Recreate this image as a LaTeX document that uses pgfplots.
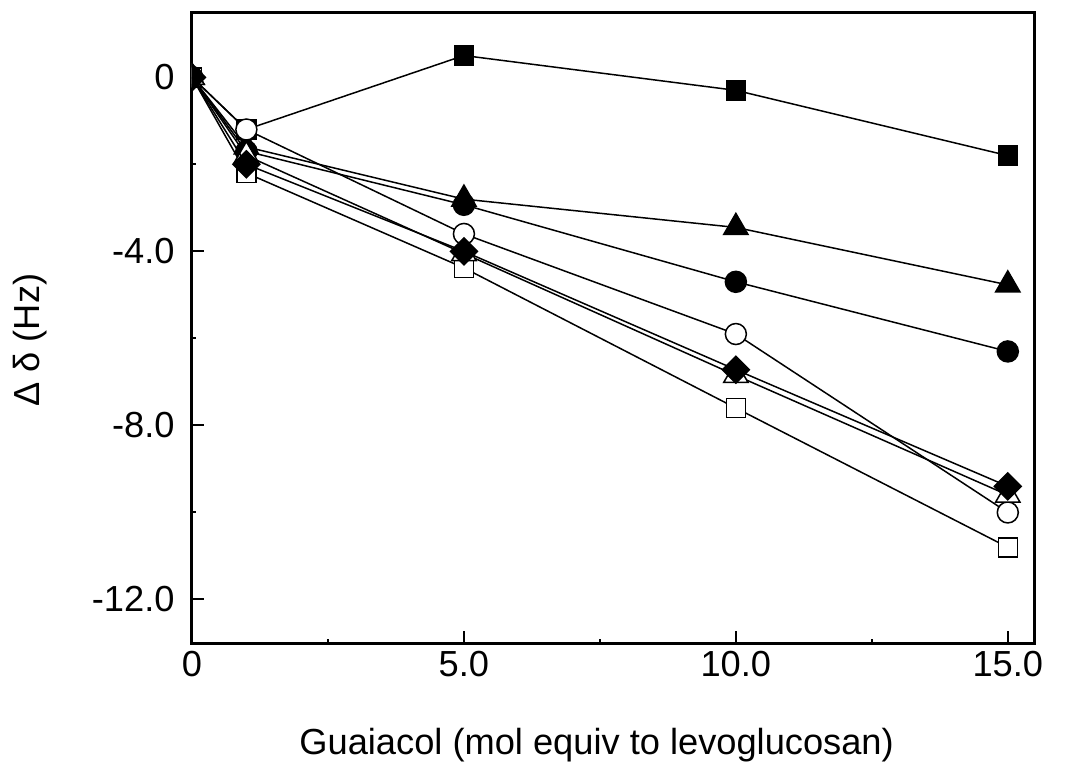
\documentclass[border=0pt]{standalone}
\usepackage{fontspec}
\setmainfont{Liberation Sans}
\usepackage{pgfplots}
\pgfplotsset{compat=1.18}

\begin{document}
\fontsize{14.5}{17}\selectfont
\begin{tikzpicture}
\useasboundingbox (-76.8pt,-54.4pt) rectangle (350pt,257.2pt);
\begin{axis}[
    at={(0,0)}, anchor=south west,
    scale only axis,
    width=337.2pt, height=252.4pt,
    xmin=0, xmax=15.5,
    ymin=-13, ymax=1.5,
    axis line style={line width=1.2pt},
    xtick={0,5,10,15},
    xticklabels={0,5.0,10.0,15.0},
    ytick={-12,-8,-4,0},
    yticklabels={-12.0,-8.0,-4.0,0},
    minor xtick={2.5,7.5,12.5},
    minor ytick={-10,-6,-2},
    tick align=inside,
    xtick pos=bottom, ytick pos=left,
    major tick length=4.8pt,
    minor tick length=1.5pt,
    tick style={line width=0.8pt, black},
    /pgf/number format/assume math mode=true,
    xticklabel style={anchor=north, inner sep=0pt, yshift=-3pt},
    yticklabel style={anchor=east, inner sep=0pt, xshift=-6.8pt},
    xlabel={Guaiacol (mol equiv to levoglucosan)},
    ylabel={Δ δ (Hz)},
    every axis x label/.style={at={(axis description cs:0.48,-0.162)}, anchor=center},
    every axis y label/.style={at={(axis description cs:-0.192,0.48)}, rotate=90, anchor=center},
    clip marker paths=true,
    every axis plot/.append style={black, line width=0.6pt, mark options={line width=0.8pt, solid}},
]
% filled square
\addplot[mark=square*, mark size=3.8pt, mark options={fill=black}] coordinates {
    (0,0) (1,-1.2) (5,0.5) (10,-0.3) (15,-1.8)};
% filled circle
\addplot[mark=*, mark size=4.2pt, mark options={fill=black}] coordinates {
    (0,0) (1,-1.7) (5,-2.93) (10,-4.7) (15,-6.3)};
% filled triangle
\addplot[mark=triangle*, mark size=5.6pt, mark options={fill=black}] coordinates {
    (0,0) (1,-1.6) (5,-2.8) (10,-3.45) (15,-4.77)};
% open square
\addplot[mark=square*, mark size=3.8pt, mark options={fill=white}] coordinates {
    (0,0) (1,-2.2) (5,-4.38) (10,-7.6) (15,-10.8)};
% open circle
\addplot[mark=*, mark size=4.2pt, mark options={fill=white}] coordinates {
    (0,0) (1,-1.2) (5,-3.6) (10,-5.9) (15,-10.0)};
% open triangle
\addplot[mark=triangle*, mark size=5.6pt, mark options={fill=white}] coordinates {
    (0,0) (1,-1.8) (5,-4.05) (10,-6.85) (15,-9.6)};
% filled diamond
\addplot[mark=square*, mark size=3.8pt, mark options={fill=black, rotate=45}] coordinates {
    (0,0) (1,-2.0) (5,-4.0) (10,-6.72) (15,-9.4)};
\end{axis}
\end{tikzpicture}
\end{document}
